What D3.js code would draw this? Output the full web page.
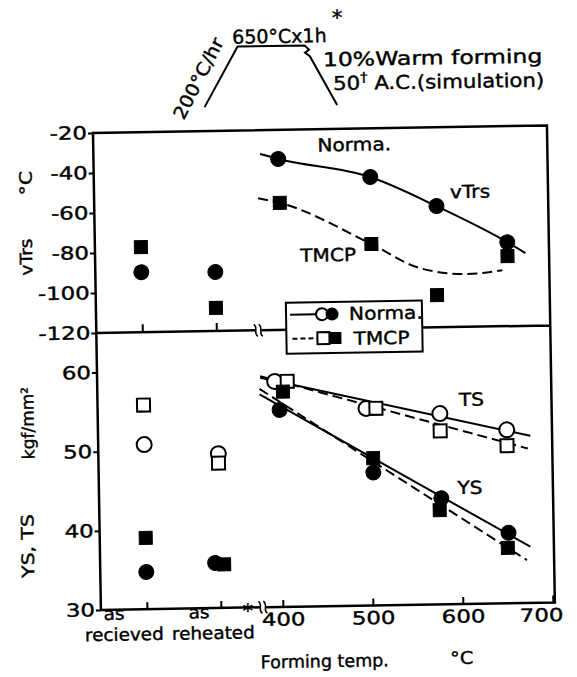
<!DOCTYPE html>
<html>
<head>
<meta charset="utf-8">
<script src="https://cdn.jsdelivr.net/npm/d3@7"></script>
<style>
  body { margin: 0; background: #fff; }
  svg text { font-family: "DejaVu Sans", sans-serif; fill: #000; stroke: #000; stroke-width: 0.4px; }
</style>
</head>
<body>
<svg id="chart" width="577" height="677"></svg>
<script>
// categories on the left part of the x axis, then forming temperatures
const categories = ["as recieved", "as reheated"];
const tempTicks = [400, 500, 600, 700];
const vtrsTicks = [-20, -40, -60, -80, -100, -120];
const kgfTicks = [30, 40, 50, 60];

// vTrs (°C): category values follow `categories`, points are [temp, value]
const vtrsNormaCat = [-90, -90.5];
const vtrsTmcpCat = [-77.5, -108.5];
const vtrsNorma = [[403, -34.5], [505, -44.3], [578, -59.4], [656, -78]];
const vtrsTmcp = [[404, -56.5], [505, -77.8], [577, -103.9], [656, -85]];
const vtrsNormaCurve = [[383, -31.9], [403, -34.5], [505, -44.3], [578, -59.4], [656, -78], [676, -83.6]];
const vtrsTmcpCurve = [[380, -54], [404, -56.5], [505, -77.8], [558, -90.2], [610, -93.6], [650, -92]];

// YS, TS (kgf/mm2)
const tsNormaCat = [50.8, 49.5];
const tsTmcpCat = [55.8, 48.3];
const ysNormaCat = [34.7, 35.7];
const ysTmcpCat = [39.0, 35.5];
const tsNorma = [[395, 58.5], [496, 54.9], [578, 54.1], [652, 51.9]];
const tsTmcp = [[409, 58.5], [507, 54.9], [578, 51.9], [652, 49.9]];
const ysNorma = [[400, 54.9], [503, 46.8], [578, 43.4], [652, 38.9]];
const ysTmcp = [[404, 57.2], [503, 48.6], [576, 41.9], [651, 37.0]];
const tsNormaFit = [[379, 59.0], [678, 51.1]];
const tsTmcpFit = [[379, 59.2], [675, 49.5]];
const ysNormaFit = [[378, 56.9], [676, 37.1]];
const ysTmcpFit = [[378, 57.6], [672, 35.4]];

// heat cycle sketch: [step, relative temperature]
const heatCycle = [[0, 0], [1, 1], [2.97, 1], [3.1, 0.93], [2.98, 0.88], [3.12, 0.82], [3.9, 0]];

const W = 454, H = 477, SPLIT = 200, BREAK_X = 162;

const xTemp = d3.scaleLinear().domain([400, 700]).range([182, 452]);
const xCat = d3.scalePoint().domain(categories).range([46, 120]);
const yTop = d3.scaleLinear().domain([-20, -120]).range([0, SPLIT]);
const yBot = d3.scaleLinear().domain([30, 65]).range([H, SPLIT]);
const heatX = d3.scaleLinear().domain([0, 1]).range([112, 146]);
const heatY = d3.scaleLinear().domain([0, 1]).range([-24, -84]);

const svg = d3.select("#chart");
svg.append("rect").attr("width", 577).attr("height", 677).attr("fill", "#fff");

// the scanned figure is tilted a little, so the whole plot is drawn in a rotated frame
const g = svg.append("g").attr("transform", "translate(93,133) rotate(-0.95)");

function stretch(sel, k, origin) {
    sel.style("transform-box", "fill-box")
        .style("transform-origin", origin || "50% 50%")
        .style("transform", `scaleX(${k})`);
    return sel;
}

function label(parent, x, y, txt, size, k, anchor) {
    const t = parent.append("text")
        .attr("x", x).attr("y", y)
        .attr("font-size", size)
        .attr("text-anchor", anchor || "middle")
        .text(txt);
    const origin = anchor === "start" ? "0% 50%" : anchor === "end" ? "100% 50%" : "50% 50%";
    return stretch(t, k, origin);
}

// frame, with the axis breaks
g.append("path")
    .attr("d", `M0,${H}V0H${W}V${H}H${BREAK_X + 3}M${BREAK_X - 3},${H}H0` +
        `M0,${SPLIT}H${BREAK_X - 3}M${BREAK_X + 3},${SPLIT}H${W}`)
    .attr("fill", "none").attr("stroke", "#000").attr("stroke-width", 2.5);

function breakMark(x, y) {
    [-2.5, 2.5].forEach(o => {
        g.append("path")
            .attr("d", `M${x + o - 2},${y - 6}C${x + o + 3},${y - 3} ${x + o - 3},${y + 3} ${x + o + 2},${y + 6}`)
            .attr("fill", "none").attr("stroke", "#000").attr("stroke-width", 1.5);
    });
}
breakMark(BREAK_X, SPLIT);
breakMark(BREAK_X, H);

function styleAxis(sel, size, k, origin) {
    sel.attr("font-family", null).attr("font-size", size);
    sel.select(".domain").remove();
    sel.selectAll(".tick line").attr("stroke", "#000").attr("stroke-width", 2);
    stretch(sel.selectAll(".tick text"), k, origin);
}

g.append("g")
    .call(d3.axisLeft(yTop).tickValues(vtrsTicks).tickSize(5).tickPadding(1).tickFormat(d => String(d)))
    .call(styleAxis, 18, 1.27, "100% 50%");

g.append("g")
    .call(d3.axisLeft(yBot).tickValues(kgfTicks).tickSize(5).tickPadding(1).tickFormat(d => String(d)))
    .call(styleAxis, 18, 1.27, "100% 50%");

const xAxis = g.append("g")
    .attr("transform", `translate(0,${H})`)
    .call(d3.axisBottom(xTemp).tickValues(tempTicks).tickSize(-7).tickPadding(6).tickFormat(d => String(d)))
    .call(styleAxis, 18, 1.27, "50% 50%");
xAxis.selectAll(".tick text").filter(d => d === 700).attr("x", -12);

g.append("g")
    .attr("transform", `translate(0,${H})`)
    .call(d3.axisBottom(xCat).tickSize(-7).tickFormat(""))
    .call(styleAxis, 18, 1, "50% 50%");

g.append("g")
    .attr("transform", `translate(0,${SPLIT})`)
    .call(d3.axisBottom(xCat).tickSize(-8).tickFormat(""))
    .call(styleAxis, 18, 1, "50% 50%");

// two-line category labels under the axis
function catLabel(cat, dxTop, dxBottom, top, bottom) {
    const cx = xCat(cat);
    label(g, cx + dxTop, 487, top, 17.5, 1.05);
    label(g, cx + dxBottom, 508, bottom, 17.5, 1.05);
}
catLabel(categories[0], -33, -23, "as", "recieved");
catLabel(categories[1], -22, -8, "as", "reheated");
label(g, xCat(categories[1]) + 27, 487, "*", 19, 1.1);

label(g, 223, 538, "Forming temp.", 17.5, 1);
label(g, 360, 537, "°C", 17.5, 1.1);

// y axis titles
function yTitle(x, y, txt, k) {
    const t = g.append("g").attr("transform", `translate(${x},${y}) rotate(-90)`)
        .append("text")
        .attr("text-anchor", "middle")
        .attr("dominant-baseline", "central")
        .attr("font-size", 17)
        .text(txt);
    stretch(t, k);
}
yTitle(-68, 49, "°C", 1.2);
yTitle(-69, 123, "vTrs", 1.1);
yTitle(-70, 289, "kgf/mm²", 1.0);
yTitle(-72, 412, "YS, TS", 1.2);

// lines
const lineOf = (y, curve) => d3.line()
    .x(d => xTemp(d[0]))
    .y(d => y(d[1]))
    .curve(curve || d3.curveLinear);

function drawLine(data, y, dashed, curve) {
    g.append("path")
        .datum(data)
        .attr("d", lineOf(y, curve))
        .attr("fill", "none")
        .attr("stroke", "#000")
        .attr("stroke-width", 2)
        .attr("stroke-dasharray", dashed ? "10,5" : null);
}

drawLine(vtrsNormaCurve, yTop, false, d3.curveMonotoneX);
drawLine(vtrsTmcpCurve, yTop, true, d3.curveMonotoneX);
drawLine(tsNormaFit, yBot, false);
drawLine(tsTmcpFit, yBot, true);
drawLine(ysNormaFit, yBot, false);
drawLine(ysTmcpFit, yBot, true);

// markers
function points(catVals, tempPts, y, shift) {
    const s = shift || [0, 0];
    return catVals.map((v, i) => ({ px: xCat(categories[i]) + s[i], py: y(v) }))
        .concat(tempPts.map(d => ({ px: xTemp(d[0]), py: y(d[1]) })));
}

function drawMarkers(data, shape, filled) {
    const grp = g.append("g")
        .attr("fill", filled ? "#000" : "#fff")
        .attr("stroke", "#000")
        .attr("stroke-width", filled ? 1 : 2);
    if (shape === "circle") {
        grp.selectAll("circle").data(data).join("circle")
            .attr("cx", d => d.px).attr("cy", d => d.py).attr("r", 7.5);
    } else {
        grp.selectAll("rect").data(data).join("rect")
            .attr("x", d => d.px - 6.5).attr("y", d => d.py - 6.5)
            .attr("width", 13).attr("height", 13);
    }
}

drawMarkers(points(vtrsNormaCat, vtrsNorma, yTop), "circle", true);
drawMarkers(points(vtrsTmcpCat, vtrsTmcp, yTop), "square", true);
drawMarkers(points(tsNormaCat, tsNorma, yBot), "circle", false);
drawMarkers(points(tsTmcpCat, tsTmcp, yBot), "square", false);
drawMarkers(points(ysNormaCat, ysNorma, yBot, [0, -5]), "circle", true);
drawMarkers(points(ysTmcpCat, ysTmcp, yBot, [0, 4]), "square", true);

// in-plot labels
function plotLabel(x, y, txt) {
    label(g, x, y, txt, 18, 1.12).attr("dominant-baseline", "central");
}
plotLabel(261, 16, "Norma.");
plotLabel(376, 65, "vTrs");
plotLabel(233, 126, "TMCP");
plotLabel(374, 273, "TS");
plotLabel(371, 361, "YS");

// legend
const leg = g.append("g");
leg.append("rect").attr("x", 190).attr("y", 173).attr("width", 136).attr("height", 51)
    .attr("fill", "#fff").attr("stroke", "#000").attr("stroke-width", 2);
leg.append("line").attr("x1", 194).attr("x2", 220).attr("y1", 185).attr("y2", 185)
    .attr("stroke", "#000").attr("stroke-width", 2);
leg.append("circle").attr("cx", 226).attr("cy", 185).attr("r", 6)
    .attr("fill", "#fff").attr("stroke", "#000").attr("stroke-width", 2);
leg.append("circle").attr("cx", 236).attr("cy", 185).attr("r", 6.5).attr("fill", "#000");
label(leg, 253, 185, "Norma.", 18, 1.12, "start").attr("dominant-baseline", "central");
leg.append("line").attr("x1", 196).attr("x2", 221).attr("y1", 209).attr("y2", 209)
    .attr("stroke", "#000").attr("stroke-width", 2).attr("stroke-dasharray", "5,3");
leg.append("rect").attr("x", 221).attr("y", 203).attr("width", 12).attr("height", 12)
    .attr("fill", "#fff").attr("stroke", "#000").attr("stroke-width", 2);
leg.append("rect").attr("x", 233).attr("y", 203).attr("width", 12).attr("height", 12).attr("fill", "#000");
label(leg, 257, 210, "TMCP", 18, 1.12, "start").attr("dominant-baseline", "central");

// heat treatment sketch above the plot
g.append("path")
    .datum(heatCycle)
    .attr("d", d3.line().x(d => heatX(d[0])).y(d => heatY(d[1])))
    .attr("fill", "none").attr("stroke", "#000").attr("stroke-width", 2);

label(g, 188, -87, "650°Cx1h", 19, 1.0);
label(g, 246, -104, "*", 21, 1);
label(g, 231, -63, "10%Warm forming", 19, 1.24, "start");
const sim = label(g, 241, -39, "50", 19, 1.12, "start");
sim.append("tspan").attr("dy", -8).attr("font-size", 13).text("†");
sim.append("tspan").attr("dy", 8).text(" A.C.(simulation)");

const rate = g.append("g").attr("transform", "translate(106,-53) rotate(-62)")
    .append("text")
    .attr("text-anchor", "middle")
    .attr("dominant-baseline", "central")
    .attr("font-size", 18)
    .text("200°C/hr");
stretch(rate, 1.1);
</script>
</body>
</html>
